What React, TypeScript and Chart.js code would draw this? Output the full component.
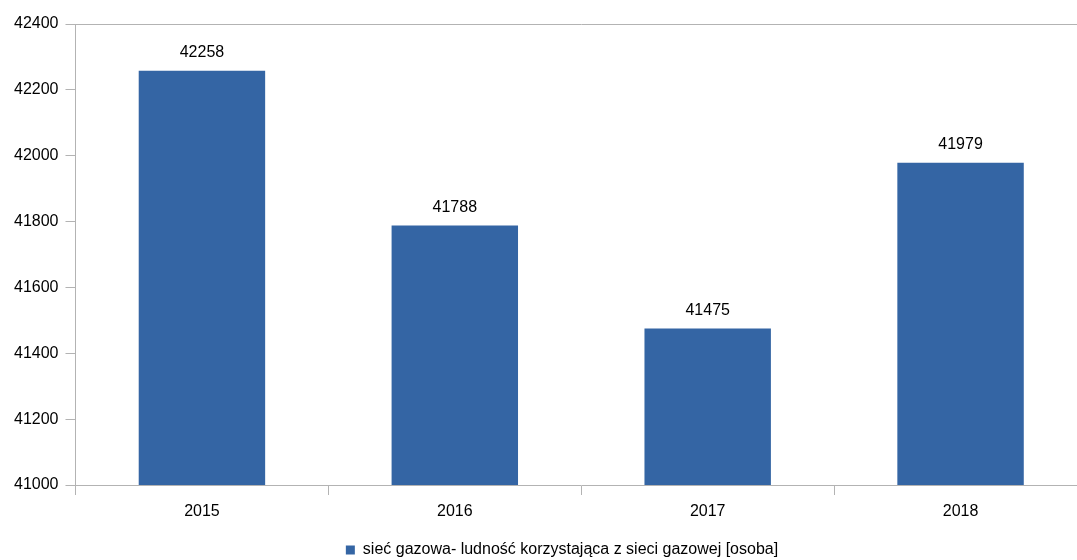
import React, { useEffect, useRef } from "react";
import { Chart, registerables } from "chart.js";

Chart.register(...registerables);

const categories = ["2015", "2016", "2017", "2018"];
const values = [42258, 41788, 41475, 41979];
const seriesLabel = "sieć gazowa- ludność korzystająca z sieci gazowej [osoba]";
const yMin = 41000;
const yMax = 42400;
const yStep = 200;

const FONT = "'Liberation Sans', Arial, sans-serif";
const AXIS_COLOR = "#b3b3b3";
const BAR_COLOR = "#3465a4";

const valueLabels = {
  id: "valueLabels",
  afterDatasetsDraw(chart: any) {
    const ctx = chart.ctx;
    const meta = chart.getDatasetMeta(0);
    ctx.save();
    ctx.font = `16px ${FONT}`;
    ctx.fillStyle = "#000000";
    ctx.textAlign = "center";
    ctx.textBaseline = "middle";
    meta.data.forEach((el: any, i: number) => {
      ctx.fillText(String(chart.data.datasets[0].data[i]), el.x, el.y - 18);
    });
    ctx.restore();
  },
};

const legendShift = {
  id: "legendShift",
  afterLayout(chart: any) {
    if (chart.legend) {
      chart.legend.left += 30;
      chart.legend.top += 8;
      chart.legend.bottom += 8;
    }
  },
};

export default function App() {
  const ref = useRef<HTMLCanvasElement | null>(null);
  useEffect(() => {
    if (!ref.current) return;
    const chart = new Chart(ref.current, {
      type: "bar",
      data: {
        labels: categories,
        datasets: [
          {
            label: seriesLabel,
            data: values,
            backgroundColor: BAR_COLOR,
            borderWidth: 0,
            barPercentage: 0.5,
            categoryPercentage: 1,
          },
        ],
      },
      options: {
        animation: false,
        responsive: false,
        maintainAspectRatio: false,
        layout: { padding: { left: 7, right: 5, top: 24, bottom: 0 } },
        plugins: {
          legend: {
            position: "bottom",
            labels: {
              boxWidth: 9,
              boxHeight: 9,
              color: "#000000",
              font: { family: FONT, size: 16 },
              padding: 2,
            },
          },
          tooltip: { enabled: false },
        },
        scales: {
          x: {
            grid: {
              offset: true,
              drawOnChartArea: false,
              tickColor: AXIS_COLOR,
              tickLength: 10,
            },
            border: { color: AXIS_COLOR },
            ticks: { color: "#000000", font: { family: FONT, size: 16 }, padding: 7 },
            afterFit: (axis: any) => {
              axis.height = 47;
            },
          },
          y: {
            min: yMin,
            max: yMax,
            grid: {
              color: (c: any) => (c.tick && c.tick.value === yMax ? AXIS_COLOR : "rgba(0,0,0,0)"),
              tickColor: AXIS_COLOR,
              tickLength: 10,
            },
            border: { color: AXIS_COLOR },
            ticks: {
              stepSize: yStep,
              color: "#000000",
              font: { family: FONT, size: 16 },
              padding: 7,
              callback: (v: any) => String(v),
            },
          },
        },
      },
      plugins: [valueLabels, legendShift],
    });
    return () => chart.destroy();
  }, []);
  return (
    <div style={{ position: "fixed", left: 0, top: 0, width: 1077, height: 560, overflow: "hidden", background: "#fff" }}>
      <canvas ref={ref} width={1092} height={560} style={{ width: 1092, height: 560, display: "block" }} />
    </div>
  );
}
